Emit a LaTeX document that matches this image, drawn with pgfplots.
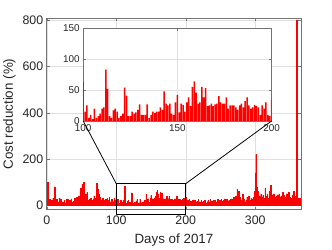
\documentclass[border=0pt]{standalone}
\usepackage{pgfplots}
\pgfplotsset{compat=1.18}
\usepackage{pgfplotstable}
\usepackage{fontspec}
\setmainfont{Liberation Sans}
\definecolor{axgray}{gray}{0.45}
\definecolor{txt}{gray}{0.15}
\definecolor{gridc}{gray}{0.88}

\pgfplotstableread{
day val
1 100
2 30
3 10
4 25
5 15
6 5
7 20
8 10
9 30
10 15
11 80
12 5
13 10
14 25
15 8
16 5
17 12
18 30
19 10
20 28
21 5
22 8
23 15
24 10
25 20
26 5
27 10
28 25
29 12
30 28
31 8
32 15
33 20
34 10
35 28
36 5
37 12
38 18
39 10
40 30
41 15
42 8
43 35
44 20
45 10
46 40
47 25
48 60
49 75
50 55
51 90
52 65
53 100
54 80
55 40
56 50
57 30
58 55
59 20
60 15
61 25
62 10
63 30
64 15
65 20
66 10
67 25
68 40
69 30
70 20
71 25
72 95
73 45
74 70
75 50
76 35
77 25
78 20
79 15
80 30
81 10
82 20
83 15
84 8
85 25
86 10
87 30
88 20
89 12
90 35
91 15
92 10
93 25
94 20
95 8
96 15
97 30
98 10
99 20
100 63
101 15
102 25
103 5
104 10
105 3
106 20
107 5
108 8
109 12
110 20
111 22
112 83
113 52
114 8
115 5
116 17
117 20
118 15
119 5
120 8
121 12
122 54
123 41
124 8
125 8
126 15
127 12
128 14
129 18
130 27
131 10
132 10
133 10
134 27
135 5
136 10
137 15
138 13
139 15
140 15
141 22
142 18
143 48
144 28
145 25
146 28
147 12
148 10
149 30
150 42
151 14
152 28
153 26
154 15
155 30
156 38
157 24
158 55
159 64
160 46
161 28
162 30
163 55
164 38
165 53
166 24
167 25
168 28
169 24
170 27
171 28
172 40
173 30
174 28
175 28
176 38
177 20
178 25
179 25
180 25
181 22
182 18
183 25
184 28
185 22
186 32
187 38
188 25
189 20
190 22
191 26
192 24
193 22
194 10
195 25
196 20
197 30
198 10
199 8
200 34
201 15
202 10
203 20
204 8
205 25
206 12
207 18
208 5
209 15
210 22
211 10
212 8
213 20
214 15
215 5
216 18
217 12
218 25
219 8
220 15
221 10
222 20
223 5
224 12
225 18
226 8
227 22
228 15
229 10
230 5
231 15
232 20
233 8
234 12
235 25
236 10
237 18
238 5
239 15
240 20
241 10
242 22
243 12
244 8
245 18
246 25
247 10
248 15
249 20
250 12
251 25
252 8
253 18
254 22
255 10
256 28
257 15
258 20
259 25
260 12
261 18
262 22
263 15
264 25
265 20
266 28
267 15
268 30
269 35
270 20
271 25
272 40
273 30
274 70
275 45
276 60
277 25
278 35
279 20
280 15
281 30
282 50
283 20
284 25
285 15
286 10
287 20
288 35
289 30
290 40
291 25
292 20
293 15
294 30
295 25
296 10
297 35
298 35
299 60
300 140
301 220
302 80
303 45
304 60
305 30
306 40
307 20
308 50
309 35
310 25
311 45
312 20
313 30
314 75
315 40
316 25
317 50
318 30
319 20
320 60
321 35
322 85
323 40
324 30
325 45
326 50
327 25
328 35
329 20
330 40
331 30
332 45
333 25
334 50
335 35
336 20
337 40
338 30
339 55
340 25
341 45
342 35
343 15
344 30
345 50
346 20
347 40
348 55
349 25
350 35
351 15
352 30
353 45
354 20
355 60
356 25
357 40
358 30
359 800
360 120
361 20
362 30
363 15
364 25
365 30
}\cost

\begin{document}
\begin{tikzpicture}
\begin{axis}[
  name=main,
  at={(0bp,0bp)}, anchor=south west,
  scale only axis, width=256bp, height=192.7bp,
  xmin=0, xmax=366, ymin=-20, ymax=810,
  xtick={0,100,200,300}, ytick={0,200,400,600,800},
  grid=major, major grid style={gridc, line width=0.4pt},
  axis line style={axgray, line width=0.5pt},
  tick style={axgray, line width=0.4pt},
  major tick length=3bp,
  tick label style={font=\fontsize{12.5}{14}\selectfont, text=txt},
  xticklabel style={yshift=-3bp},
  label style={font=\fontsize{13.5}{16}\selectfont, text=txt},
  xlabel style={yshift=-2bp},
  xlabel={Days of 2017}, ylabel={Cost reduction (\%)},
  /pgf/number format/assume math mode=true,
  /pgf/number format/1000 sep={},
]
\addplot[ybar, bar width=0.8, fill=red, draw=red, line width=0.15pt] table[x=day,y=val]{\cost};
\coordinate (zbl) at (axis cs:100,-40);
\coordinate (ztl) at (axis cs:100,93);
\coordinate (ztr) at (axis cs:200,93);
\end{axis}
\draw[black, line width=0.8pt] (zbl) rectangle (ztr);
\begin{axis}[
  name=inset,
  at={(36.7bp,89.3bp)}, anchor=south west,
  scale only axis, width=189.5bp, height=93.4bp,
  xmin=100, xmax=200, ymin=0, ymax=150,
  xtick={100,150,200}, ytick={0,50,100,150},
  axis background/.style={fill=white},
  grid=major, major grid style={gridc, line width=0.4pt},
  axis line style={axgray, line width=0.5pt},
  tick style={axgray, line width=0.4pt},
  major tick length=2.5bp,
  tick label style={font=\fontsize{10}{12}\selectfont, text=txt},
  /pgf/number format/assume math mode=true,
]
\addplot[ybar, bar width=0.8, fill=red, draw=none] table[x=day,y=val]{\cost};
\end{axis}
\draw[black, line width=0.8pt] (ztl) -- (inset.south west);
\draw[black, line width=0.8pt] (ztr) -- (inset.south east);
\path[use as bounding box] (-45bp,-38bp) rectangle (287bp,211bp);
\end{tikzpicture}
\end{document}
